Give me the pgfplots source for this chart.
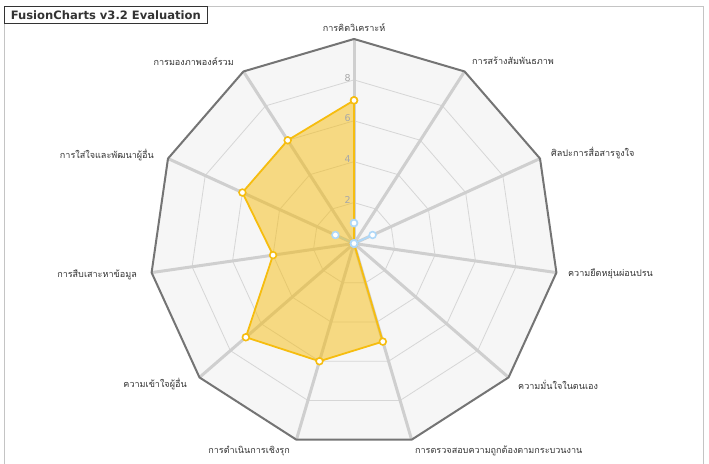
\documentclass[border=0pt]{standalone}
\usepackage{pgfplots}
\pgfplotsset{compat=1.18}
\usepackage{pgfplotstable}
\usepackage{fontspec}
\setmainfont{DejaVu Sans}
\newfontfamily\thaifont[Script=Thai]{Loma}
\definecolor{bgpoly}{HTML}{F6F6F6}
\definecolor{ringc}{HTML}{D6D6D6}
\definecolor{spokec}{HTML}{CFCFCF}
\definecolor{outerc}{HTML}{747474}
\definecolor{orangec}{HTML}{F6BD0F}
\definecolor{bluec}{HTML}{AFD8F8}
\definecolor{framec}{HTML}{C4C4C4}
\definecolor{tickc}{HTML}{A8A8A8}
\definecolor{labc}{HTML}{333333}

\tikzset{
  lab/.style={text=labc, font=\thaifont\fontsize{9.1}{11}\selectfont, inner sep=0pt},
  tk/.style={text=tickc, font=\fontsize{9.5}{11}\selectfont, anchor=east, inner sep=0pt}}
\pgfplotsset{
  P/.style={data cs=polar},
  spoke/.style={data cs=polar, draw=spokec, line width=3bp, no marks},
  ring/.style={data cs=polar, draw=ringc, line width=0.8bp, no marks}}

% angle (deg), orange series, blue series (0-10 scale); last row closes the polygon
\pgfplotstableread{
a o b
90 7 1
57.2727 0 0
24.5455 0 1
-8.1818 0 0
-40.9091 0 0
-73.6364 5 0
-106.3636 6 0
-139.0909 7 0
-171.8182 4 0
-204.5455 6 1
-237.2727 6 0
-270 7 1
}\radar

\begin{document}
\begin{tikzpicture}
\useasboundingbox (0,0) rectangle (709bp,464bp);
\fill[white] (0,0) rectangle (709bp,464bp);
\begin{axis}[at={(0,0)}, anchor=south west, scale only axis,
  width=709bp, height=464bp,
  xmin=-17.311, xmax=17.359, ymin=-10.782, ymax=11.907,
  hide axis, clip=false]
% background polygon
\addplot[P, fill=bgpoly, draw=none, no marks] table[x=a, y expr=10]{\radar};
% rings
\addplot[ring] table[x=a, y expr=2]{\radar};
\addplot[ring] table[x=a, y expr=4]{\radar};
\addplot[ring] table[x=a, y expr=6]{\radar};
\addplot[ring] table[x=a, y expr=8]{\radar};
% spokes
\addplot[spoke] coordinates {(0,0) (90,10)};
\addplot[spoke] coordinates {(0,0) (57.2727,10)};
\addplot[spoke] coordinates {(0,0) (24.5455,10)};
\addplot[spoke] coordinates {(0,0) (-8.1818,10)};
\addplot[spoke] coordinates {(0,0) (-40.9091,10)};
\addplot[spoke] coordinates {(0,0) (-73.6364,10)};
\addplot[spoke] coordinates {(0,0) (-106.3636,10)};
\addplot[spoke] coordinates {(0,0) (-139.0909,10)};
\addplot[spoke] coordinates {(0,0) (-171.8182,10)};
\addplot[spoke] coordinates {(0,0) (-204.5455,10)};
\addplot[spoke] coordinates {(0,0) (-237.2727,10)};
% outer border
\addplot[P, draw=outerc, line width=2bp, no marks] table[x=a, y expr=10]{\radar};
% blue series (area and line)
\addplot[P, fill=bluec, fill opacity=0.35, draw=none, no marks] table[x=a, y=b]{\radar};
\addplot[P, draw=bluec, line width=1.8bp, no marks] table[x=a, y=b]{\radar};
% orange series (area and line)
\addplot[P, fill=orangec, fill opacity=0.5, draw=none, no marks] table[x=a, y=o]{\radar};
\addplot[P, draw=orangec, line width=1.8bp, no marks] table[x=a, y=o]{\radar};
% markers
\addplot[P, only marks, mark=*, mark size=3.4bp,
  mark options={fill=white, draw=orangec, line width=1.6bp}] table[x=a, y=o]{\radar};
\addplot[P, only marks, mark=*, mark size=3.4bp,
  mark options={fill=white, draw=bluec, line width=1.6bp}] table[x=a, y=b]{\radar};
% tick labels
\node[tk] at (axis cs:-0.15,2.11) {2};
\node[tk] at (axis cs:-0.15,4.11) {4};
\node[tk] at (axis cs:-0.15,6.11) {6};
\node[tk] at (axis cs:-0.15,8.11) {8};
% category labels
\node[lab, anchor=center] at (axis cs:0,10.56) {การคิดวิเคราะห์};
\node[lab, anchor=west] at (axis cs:5.77,8.92) {การสร้างสัมพันธภาพ};
\node[lab, anchor=west] at (axis cs:9.63,4.43) {ศิลปะการสื่อสารจูงใจ};
\node[lab, anchor=west] at (axis cs:10.46,-1.49) {ความยืดหยุ่นผ่อนปรน};
\node[lab, anchor=west] at (axis cs:8.02,-6.92) {ความมั่นใจในตนเอง};
\node[lab, anchor=west] at (axis cs:2.98,-10.15) {การตรวจสอบความถูกต้องตามกระบวนงาน};
\node[lab, anchor=east] at (axis cs:-3.13,-10.15) {การดำเนินการเชิงรุก};
\node[lab, anchor=east] at (axis cs:-8.17,-6.87) {ความเข้าใจผู้อื่น};
\node[lab, anchor=east] at (axis cs:-10.61,-1.54) {การสืบเสาะหาข้อมูล};
\node[lab, anchor=east] at (axis cs:-9.78,4.33) {การใส่ใจและพัฒนาผู้อื่น};
\node[lab, anchor=east] at (axis cs:-5.87,8.88) {การมองภาพองค์รวม};
\end{axis}
% frame and title box
\draw[framec, line width=0.8bp] (4.3bp,0) -- (4.3bp,457.7bp) -- (703.5bp,457.7bp) -- (703.5bp,0);
\draw[fill=white, draw=black!80, line width=0.9bp] (4.3bp,440.7bp) rectangle (207bp,457.7bp);
\node[font=\bfseries\fontsize{11.6}{13}\selectfont, text=black!80, inner sep=0pt] at (105.8bp,449.2bp) {FusionCharts v3.2 Evaluation};
\end{tikzpicture}
\end{document}
